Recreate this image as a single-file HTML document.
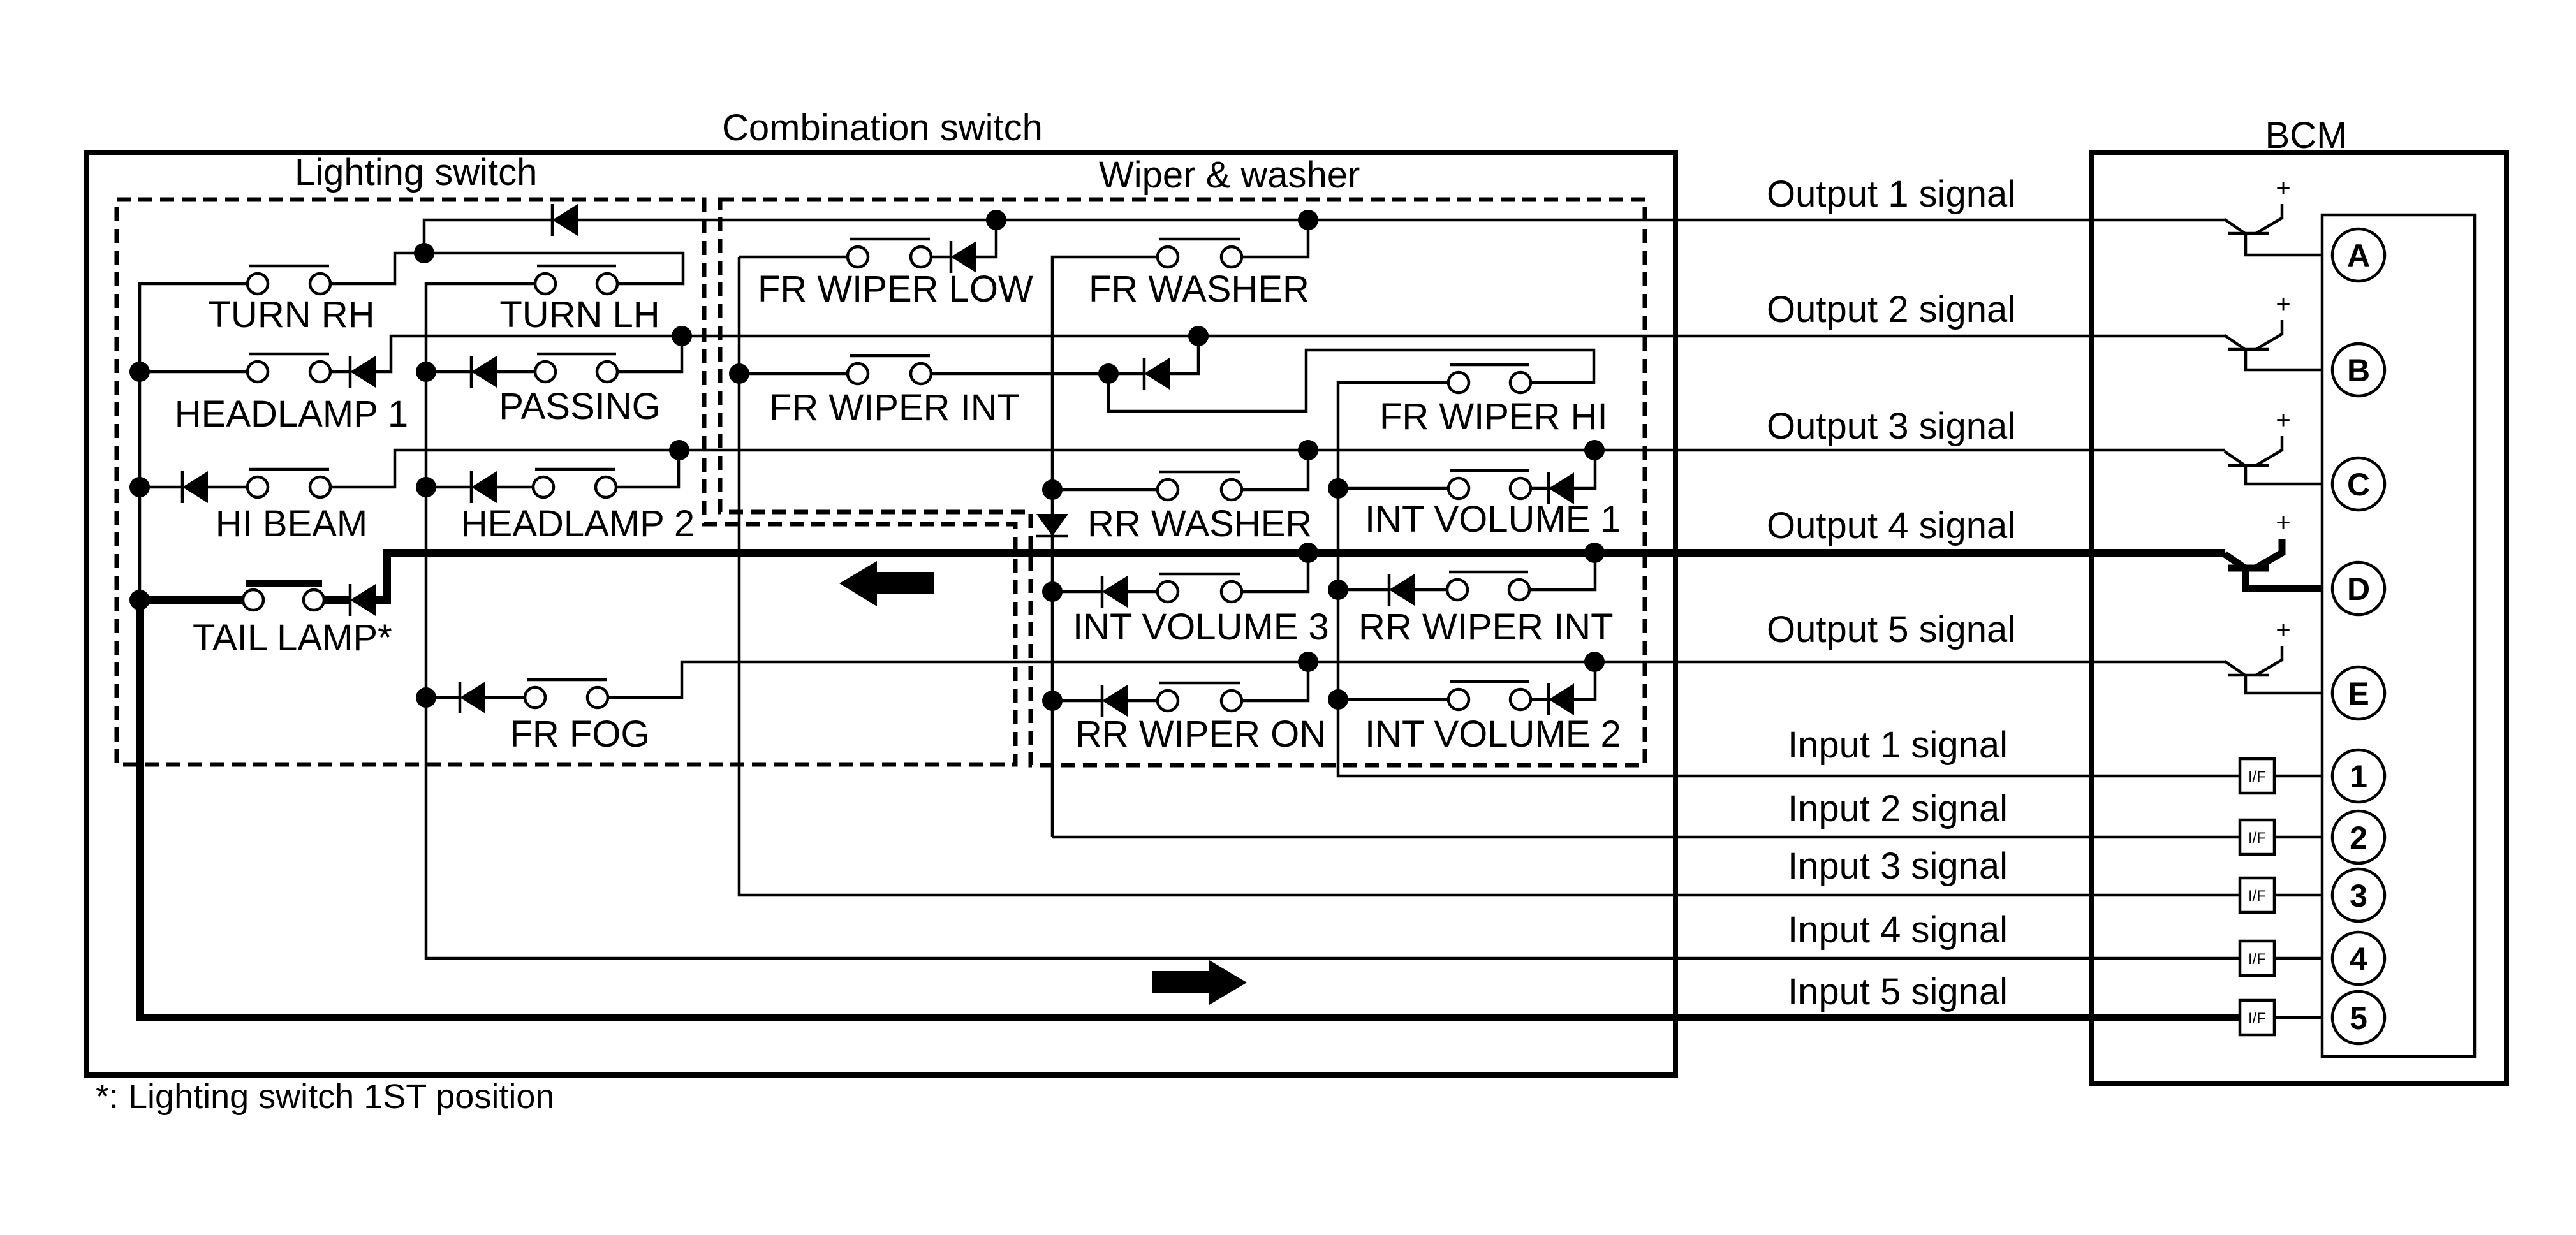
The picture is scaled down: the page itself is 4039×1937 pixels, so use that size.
<!DOCTYPE html>
<html><head><meta charset="utf-8"><style>html,body{margin:0;padding:0;background:#fff}svg{display:block}text{font-family:"Liberation Sans",Arial,sans-serif;fill:#000}</style></head>
<body>
<svg xmlns="http://www.w3.org/2000/svg" width="4039" height="1937" viewBox="0 0 4039 1937">
<rect width="4039" height="1937" fill="#fff"/>
<g fill="none" stroke="#000" stroke-width="4.5" stroke-linejoin="miter">
<rect x="136" y="239" width="2491" height="1447" stroke-width="8"/>
<rect x="3279" y="239" width="651" height="1461" stroke-width="8"/>
<rect x="3641" y="337" width="239" height="1320" stroke-width="4.5"/>
<path d="M183,313 H1104 V822 H1592 V1199 H183 Z" stroke-width="7" stroke-dasharray="22 12"/>
<path d="M1129,313 H2579 V1200 H1616 V803 H1129 Z" stroke-width="7" stroke-dasharray="22 12"/>
<path d="M665,397 V345 H3488"/>
<path d="M518,445 H619 V397 H1071 V445 H968"/>
<path d="M388,445 H219 V941"/>
<path d="M839,445 H668 V1503 H3512"/>
<path d="M219,583 H388 M518,583 H549 M589,583 H613 V527 H3488"/>
<path d="M1069,527 V583 H968 M668,583 H739 M779,583 H839"/>
<path d="M219,764 H286 M326,764 H388 M518,764 H619 V706 H3488"/>
<path d="M668,764 H739 M779,764 H836 M966,764 H1064 V706"/>
<path d="M668,1094 H721 M761,1094 H823 M953,1094 H1069 V1038 H3488"/>
<path d="M219,941 H381 M508,941 H549 M589,941 H607 V867 H3488 M219,941 V1596 H3512" stroke-width="12"/>
<path d="M386,915 H505" stroke-width="12"/>
<path d="M3566,1596 H3641"/>
<path d="M1159,403 V1404 H3512 M1159,403 H1329 M1460,403 H1491 M1531,403 H1562 V345"/>
<path d="M1650,1313 V403 H1815 M1947,403 H2051 V345"/>
<path d="M1650,1313 H3512"/>
<path d="M1159,586 H1329 M1460,586 H1794 M1834,586 H1879 V527"/>
<path d="M1738,586 V645 H2048 V549 H2499 V600 H2400 M2271,600 H2098 V1217 H3512"/>
<path d="M1650,768 H1815 M1947,768 H2051 V706"/>
<path d="M2098,766 H2271 M2400,766 H2428 M2468,766 H2501 V706"/>
<path d="M1650,928 H1728 M1768,928 H1815 M1947,928 H2051 V867"/>
<path d="M2098,925 H2178 M2218,925 H2269 M2398,925 H2501 V867"/>
<path d="M1650,1099 H1728 M1768,1099 H1815 M1947,1099 H2051 V1038"/>
<path d="M2098,1097 H2271 M2400,1097 H2428 M2468,1097 H2501 V1038"/>
<path d="M3566,1217 H3641 M3566,1313 H3641 M3566,1404 H3641 M3566,1503 H3641"/>
<path d="M3488,344 L3520,366 M3493,366 H3557 M3537,366 L3578,342 V320 M3521,366 V400 H3641"/>
<path d="M3488,526 L3520,548 M3493,548 H3557 M3537,548 L3578,524 V502 M3521,548 V580 H3641"/>
<path d="M3488,708 L3520,730 M3493,730 H3557 M3537,730 L3578,706 V684 M3521,730 V759 H3641"/>
<path d="M3488,1037 L3520,1059 M3493,1059 H3557 M3537,1059 L3578,1035 V1013 M3521,1059 V1087 H3641"/>
<path d="M3488,869 L3520,891 M3493,891 H3557 M3537,891 L3578,867 V845 M3521,891 V923 H3641" stroke-width="11"/>
<path d="M391,417 H516 M842,417 H966 M391,555 H516 M842,555 H966 M391,736 H516 M839,736 H964 M826,1066 H951
M1332,375 H1458 M1818,375 H1945 M1332,558 H1458 M2274,572 H2398 M1818,740 H1945 M2274,738 H2398 M1818,900 H1945 M2272,897 H2396 M1818,1071 H1945 M2274,1069 H2398"/>
<g fill="#fff">
<circle cx="404" cy="445" r="16"/><circle cx="502" cy="445" r="16"/>
<circle cx="855" cy="445" r="16"/><circle cx="952" cy="445" r="16"/>
<circle cx="404" cy="583" r="16"/><circle cx="502" cy="583" r="16"/>
<circle cx="855" cy="583" r="16"/><circle cx="952" cy="583" r="16"/>
<circle cx="404" cy="764" r="16"/><circle cx="502" cy="764" r="16"/>
<circle cx="852" cy="764" r="16"/><circle cx="950" cy="764" r="16"/>
<circle cx="397" cy="941" r="16"/><circle cx="492" cy="941" r="16"/>
<circle cx="839" cy="1094" r="16"/><circle cx="937" cy="1094" r="16"/>
<circle cx="1345" cy="403" r="16"/><circle cx="1444" cy="403" r="16"/>
<circle cx="1831" cy="403" r="16"/><circle cx="1931" cy="403" r="16"/>
<circle cx="1345" cy="586" r="16"/><circle cx="1444" cy="586" r="16"/>
<circle cx="2287" cy="600" r="16"/><circle cx="2384" cy="600" r="16"/>
<circle cx="1831" cy="768" r="16"/><circle cx="1931" cy="768" r="16"/>
<circle cx="2287" cy="766" r="16"/><circle cx="2384" cy="766" r="16"/>
<circle cx="1831" cy="928" r="16"/><circle cx="1931" cy="928" r="16"/>
<circle cx="2285" cy="925" r="16"/><circle cx="2382" cy="925" r="16"/>
<circle cx="1831" cy="1099" r="16"/><circle cx="1931" cy="1099" r="16"/>
<circle cx="2287" cy="1097" r="16"/><circle cx="2384" cy="1097" r="16"/>
<circle cx="3698" cy="400" r="41"/><circle cx="3698" cy="580" r="41"/><circle cx="3698" cy="759" r="41"/><circle cx="3698" cy="923" r="41"/><circle cx="3698" cy="1087" r="41"/>
<circle cx="3698" cy="1217" r="41"/><circle cx="3698" cy="1313" r="41"/><circle cx="3698" cy="1404" r="41"/><circle cx="3698" cy="1503" r="41"/><circle cx="3698" cy="1596" r="41"/>
<rect x="3512" y="1190" width="54" height="54"/><rect x="3512" y="1286" width="54" height="54"/><rect x="3512" y="1377" width="54" height="54"/><rect x="3512" y="1476" width="54" height="54"/><rect x="3512" y="1569" width="54" height="54"/>
</g>
<path d="M866,320 V370 M549,558 V608 M739,558 V608 M286,739 V789 M739,739 V789 M549,916 V966 M721,1069 V1119
M1491,378 V428 M1794,561 V611 M2428,741 V791 M1728,903 V953 M2178,900 V950 M1728,1074 V1124 M2428,1072 V1122 M1625,841 H1675"/>
</g>
<g fill="#000">
<polygon points="866,345 906,320 906,370"/>
<polygon points="549,583 589,558 589,608"/>
<polygon points="739,583 779,558 779,608"/>
<polygon points="286,764 326,739 326,789"/>
<polygon points="739,764 779,739 779,789"/>
<polygon points="549,941 589,916 589,966"/>
<polygon points="721,1094 761,1069 761,1119"/>
<polygon points="1491,403 1531,378 1531,428"/>
<polygon points="1794,586 1834,561 1834,611"/>
<polygon points="2428,766 2468,741 2468,791"/>
<polygon points="1728,928 1768,903 1768,953"/>
<polygon points="2178,925 2218,900 2218,950"/>
<polygon points="1728,1099 1768,1074 1768,1124"/>
<polygon points="2428,1097 2468,1072 2468,1122"/>
<polygon points="1650,841 1625,806 1675,806"/>
<circle cx="665" cy="397" r="16"/><circle cx="219" cy="583" r="16"/><circle cx="219" cy="764" r="16"/><circle cx="219" cy="941" r="16"/>
<circle cx="668" cy="583" r="16"/><circle cx="668" cy="764" r="16"/><circle cx="668" cy="1094" r="16"/>
<circle cx="1069" cy="527" r="16"/><circle cx="1065" cy="706" r="16"/>
<circle cx="1562" cy="345" r="16"/><circle cx="2051" cy="345" r="16"/><circle cx="1159" cy="586" r="16"/><circle cx="1879" cy="527" r="16"/><circle cx="1738" cy="586" r="16"/>
<circle cx="1650" cy="768" r="16"/><circle cx="2051" cy="706" r="16"/><circle cx="2098" cy="766" r="16"/><circle cx="2500" cy="706" r="16"/>
<circle cx="1650" cy="928" r="16"/><circle cx="2051" cy="867" r="16"/><circle cx="2098" cy="925" r="16"/><circle cx="2500" cy="867" r="16"/>
<circle cx="1650" cy="1099" r="16"/><circle cx="2051" cy="1038" r="16"/><circle cx="2098" cy="1097" r="16"/><circle cx="2500" cy="1038" r="16"/>
<polygon points="1316,915 1375,880 1375,897 1464,897 1464,931 1375,931 1375,951"/>
<polygon points="1955,1541 1896,1506 1896,1523 1807,1523 1807,1558 1896,1558 1896,1576"/>
</g>
<g font-size="58">
<text x="1132" y="220">Combination switch</text>
<text x="462" y="290">Lighting switch</text>
<text x="1723" y="294">Wiper &amp; washer</text>
<text x="3616" y="232" text-anchor="middle">BCM</text>
<g text-anchor="middle">
<text x="457" y="513">TURN RH</text><text x="909" y="513">TURN LH</text>
<text x="457" y="669">HEADLAMP 1</text><text x="909" y="657">PASSING</text>
<text x="457" y="841">HI BEAM</text><text x="906" y="841">HEADLAMP 2</text>
<text x="909" y="1171">FR FOG</text>
</g>
<text x="302" y="1020">TAIL LAMP*</text>
<text x="1188" y="473">FR WIPER LOW</text><text x="1707" y="473">FR WASHER</text>
<text x="1206" y="659">FR WIPER INT</text><text x="2163" y="673">FR WIPER HI</text>
<text x="1705" y="841">RR WASHER</text><text x="2140" y="834">INT VOLUME 1</text>
<text x="1682" y="1003">INT VOLUME 3</text><text x="2130" y="1003">RR WIPER INT</text>
<text x="1686" y="1171">RR WIPER ON</text><text x="2140" y="1171">INT VOLUME 2</text>
<text x="2770" y="324">Output 1 signal</text><text x="2770" y="505">Output 2 signal</text>
<text x="2770" y="688">Output 3 signal</text><text x="2770" y="844">Output 4 signal</text>
<text x="2770" y="1007">Output 5 signal</text>
<text x="2803" y="1188">Input 1 signal</text><text x="2803" y="1288">Input 2 signal</text>
<text x="2803" y="1378">Input 3 signal</text><text x="2803" y="1478">Input 4 signal</text>
<text x="2803" y="1575">Input 5 signal</text>
<text x="150" y="1738" font-size="54">*: Lighting switch 1ST position</text>
</g>
<g font-size="40" text-anchor="middle">
<text x="3580" y="308">+</text><text x="3580" y="490">+</text><text x="3580" y="672">+</text><text x="3580" y="833">+</text><text x="3580" y="1001">+</text>
</g>
<g font-size="50" font-weight="bold" text-anchor="middle">
<text x="3698" y="418">A</text><text x="3698" y="598">B</text><text x="3698" y="777">C</text><text x="3698" y="941">D</text><text x="3698" y="1105">E</text>
<text x="3698" y="1235">1</text><text x="3698" y="1331">2</text><text x="3698" y="1422">3</text><text x="3698" y="1521">4</text><text x="3698" y="1614">5</text>
</g>
<g font-size="24" text-anchor="middle">
<text x="3539" y="1226">I/F</text><text x="3539" y="1322">I/F</text><text x="3539" y="1413">I/F</text><text x="3539" y="1512">I/F</text><text x="3539" y="1605">I/F</text>
</g>
</svg>
</body></html>
